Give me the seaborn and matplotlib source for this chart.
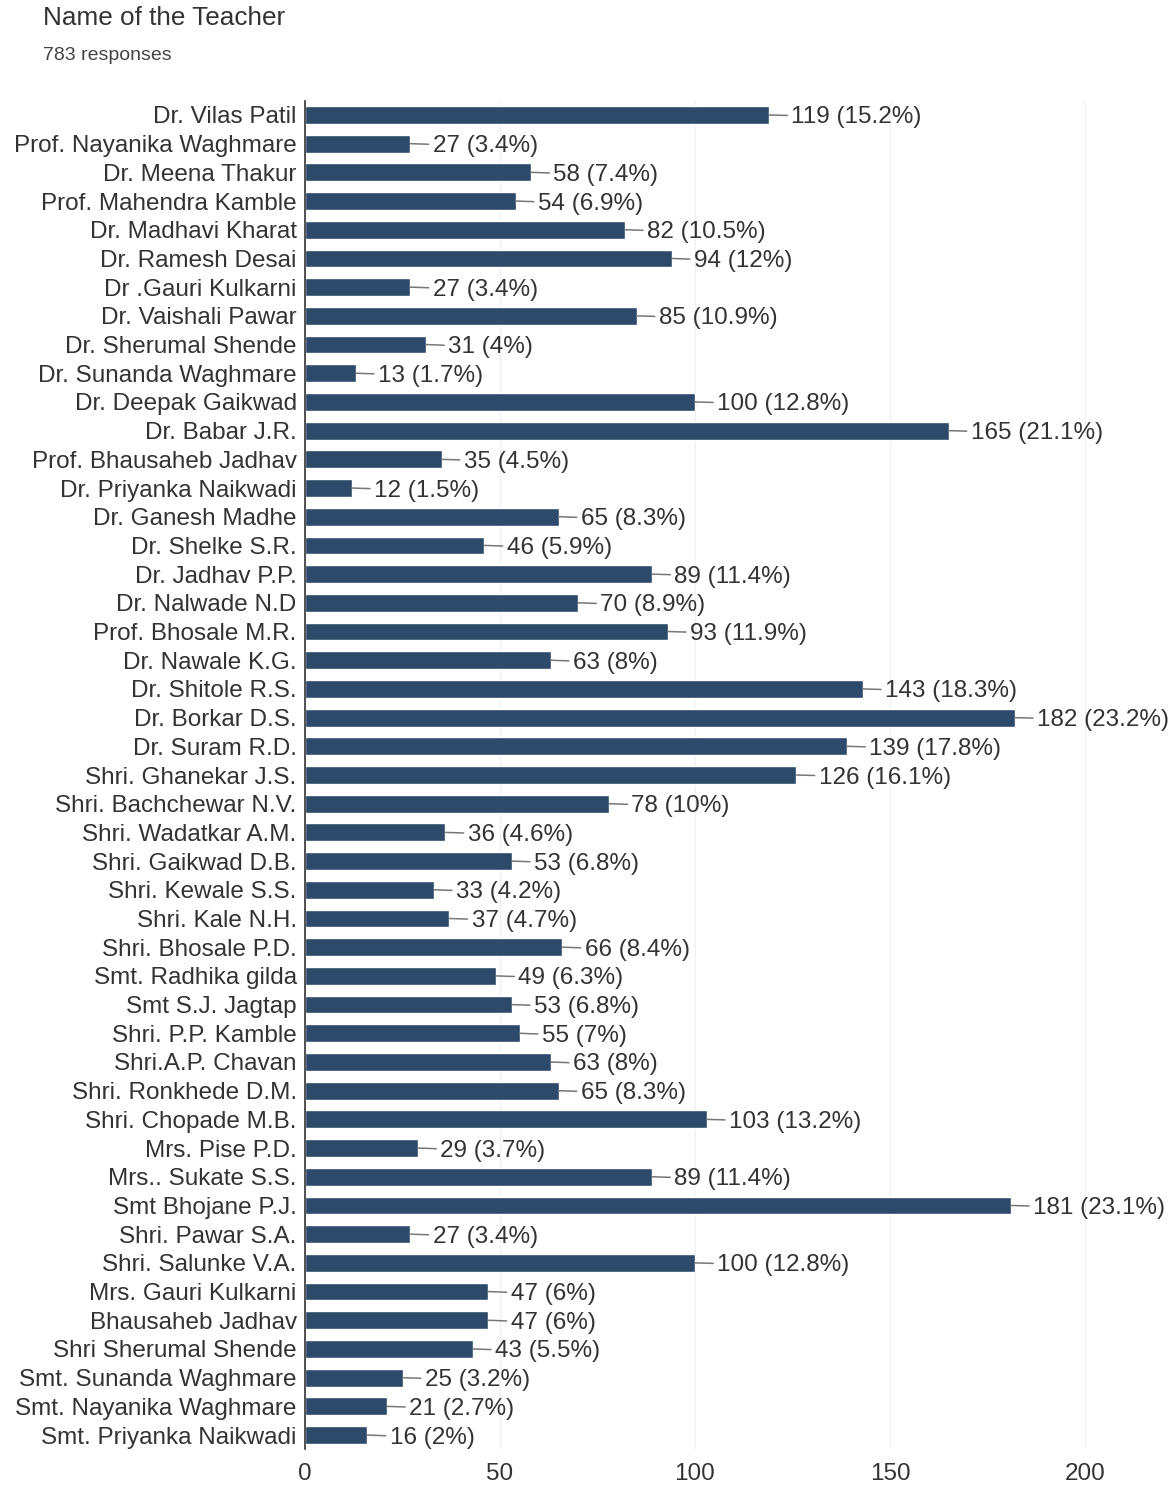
import matplotlib
matplotlib.use("Agg")
import matplotlib.pyplot as plt
import seaborn as sns
import pandas as pd

# dati (risposte per docente)
nomi = [
    "Dr. Vilas Patil", "Prof. Nayanika Waghmare", "Dr. Meena Thakur", "Prof. Mahendra Kamble",
    "Dr. Madhavi Kharat", "Dr. Ramesh Desai", "Dr .Gauri Kulkarni", "Dr. Vaishali Pawar",
    "Dr. Sherumal Shende", "Dr. Sunanda Waghmare", "Dr. Deepak Gaikwad", "Dr. Babar J.R.",
    "Prof. Bhausaheb Jadhav", "Dr. Priyanka Naikwadi", "Dr. Ganesh Madhe", "Dr. Shelke S.R.",
    "Dr. Jadhav P.P.", "Dr. Nalwade N.D", "Prof. Bhosale M.R.", "Dr. Nawale K.G.",
    "Dr. Shitole R.S.", "Dr. Borkar D.S.", "Dr. Suram R.D.", "Shri. Ghanekar J.S.",
    "Shri. Bachchewar N.V.", "Shri. Wadatkar A.M.", "Shri. Gaikwad D.B.", "Shri. Kewale S.S.",
    "Shri. Kale N.H.", "Shri. Bhosale P.D.", "Smt. Radhika gilda", "Smt S.J. Jagtap",
    "Shri. P.P. Kamble", "Shri.A.P. Chavan", "Shri. Ronkhede D.M.", "Shri. Chopade M.B.",
    "Mrs. Pise P.D.", "Mrs.. Sukate S.S.", "Smt Bhojane P.J.", "Shri. Pawar S.A.",
    "Shri. Salunke V.A.", "Mrs. Gauri Kulkarni", "Bhausaheb Jadhav", "Shri Sherumal Shende",
    "Smt. Sunanda Waghmare", "Smt. Nayanika Waghmare", "Smt. Priyanka Naikwadi",
]
risposte = [
    119, 27, 58, 54, 82, 94, 27, 85, 31, 13, 100, 165, 35, 12, 65, 46,
    89, 70, 93, 63, 143, 182, 139, 126, 78, 36, 53, 33, 37, 66, 49, 53,
    55, 63, 65, 103, 29, 89, 181, 27, 100, 47, 47, 43, 25, 21, 16,
]
percentuali = [
    "15.2", "3.4", "7.4", "6.9", "10.5", "12", "3.4", "10.9", "4", "1.7", "12.8", "21.1",
    "4.5", "1.5", "8.3", "5.9", "11.4", "8.9", "11.9", "8", "18.3", "23.2", "17.8", "16.1",
    "10", "4.6", "6.8", "4.2", "4.7", "8.4", "6.3", "6.8", "7", "8", "8.3", "13.2",
    "3.7", "11.4", "23.1", "3.4", "12.8", "6", "6", "5.5", "3.2", "2.7", "2",
]
tick_x = [0, 50, 100, 150, 200]

df = pd.DataFrame({"nome": nomi, "risposte": risposte})

sns.set_style("white")
plt.rcParams["font.family"] = ["Liberation Sans", "DejaVu Sans"]

fig = plt.figure(figsize=(11.76, 14.87), dpi=100)
ax = fig.add_axes([305 / 1176, 1 - 1449.4 / 1487, (1124 - 305) / 1176, (1449.4 - 100.6) / 1487])

sns.barplot(data=df, x="risposte", y="nome", orient="h", color="#2e4a6b", width=0.62,
            saturation=1, ax=ax)

# etichette con linea di collegamento
for barra, n, p in zip(ax.patches, risposte, percentuali):
    y = barra.get_y() + barra.get_height() / 2
    ax.annotate(f"{n} ({p}%)", xy=(barra.get_width(), y), xytext=(16, 0),
                textcoords="offset points", va="center_baseline", ha="left",
                fontsize=17.5, color="#333333",
                arrowprops=dict(arrowstyle="-", color="#777777", lw=1.1, shrinkA=0.5, shrinkB=0))

ax.set_xlim(0, 210)
ax.set_xticks(tick_x)
ax.set_xlabel("")
ax.set_ylabel("")
ax.grid(axis="x", color="#f0f0f0", lw=1)
ax.set_axisbelow(True)
for lato in ["top", "right", "bottom"]:
    ax.spines[lato].set_visible(False)
ax.spines["left"].set_color("#333333")
ax.spines["left"].set_linewidth(1.2)
ax.tick_params(axis="both", length=0, labelsize=17.5, colors="#333333")
ax.tick_params(axis="y", pad=6)
ax.tick_params(axis="x", pad=10)
for t in ax.get_yticklabels():
    t.set_verticalalignment("center_baseline")

# titolo e sottotitolo come in Google Forms
fig.text(43 / 1176, 1 - 18 / 1487, "Name of the Teacher", fontsize=18.8, color="#333333",
         va="center", ha="left")
fig.text(43 / 1176, 1 - 55 / 1487, "783 responses", fontsize=14, color="#444444",
         va="center", ha="left")

fig.savefig("out.png", dpi=100, facecolor="white")
